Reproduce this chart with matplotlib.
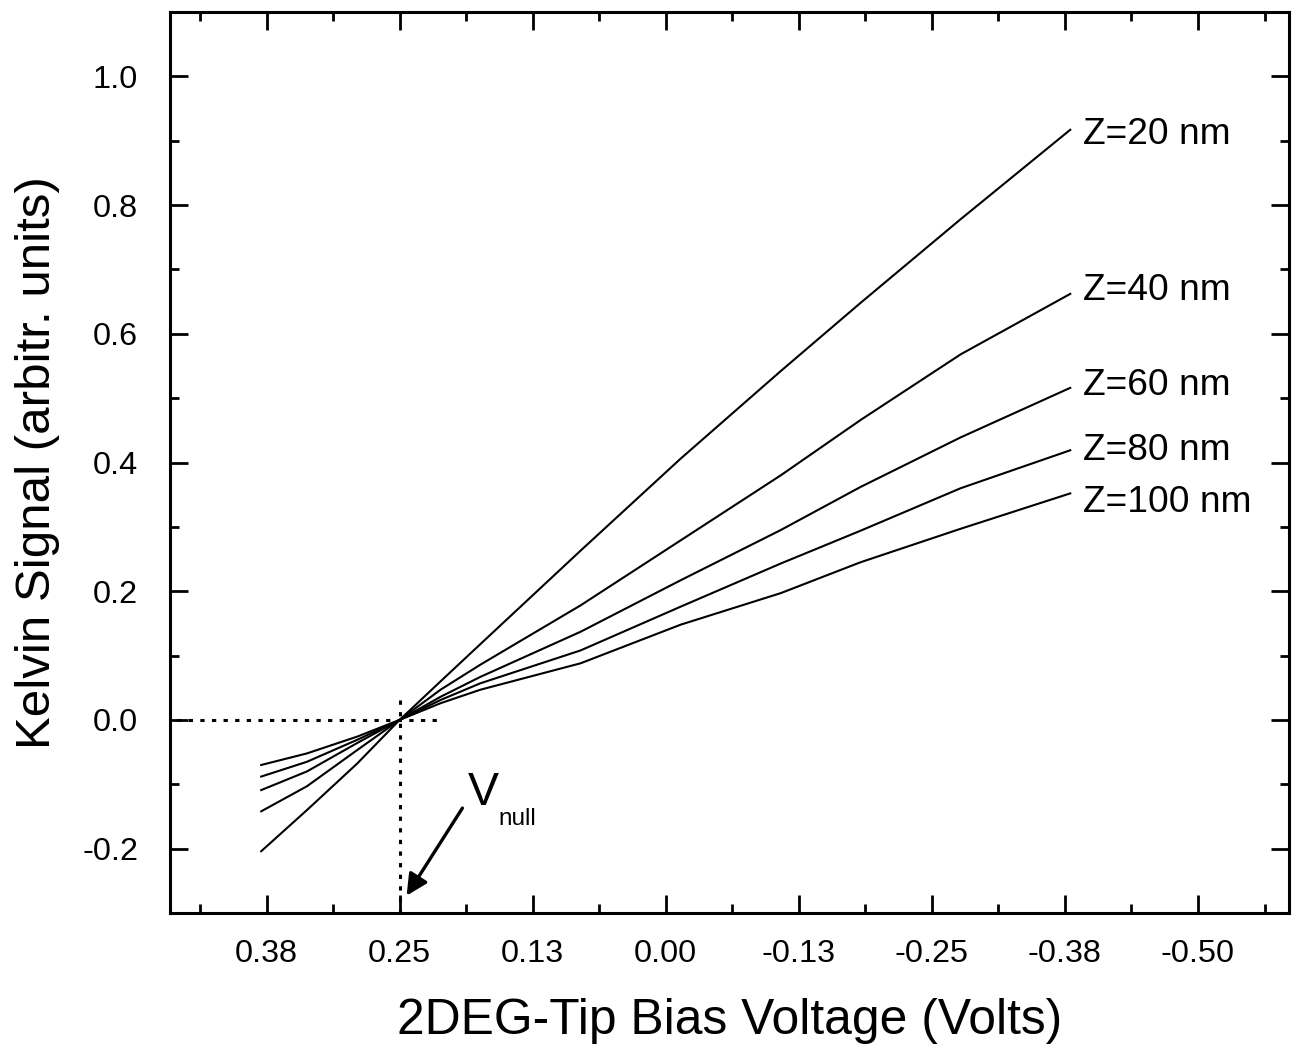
import matplotlib
matplotlib.use("Agg")
import matplotlib.pyplot as plt
from matplotlib.ticker import FixedLocator, MultipleLocator

plt.rcParams['font.family'] = ['Liberation Sans', 'DejaVu Sans']
plt.rcParams['axes.unicode_minus'] = False

# Bias voltage (V) sample points
bias = [0.38, 0.337, 0.29, 0.25, 0.2115, 0.174, 0.080, -0.014, -0.108, -0.183, -0.277, -0.38]

# Kelvin signal (arbitr. units) for each tip height
z20 = [-0.204, -0.140, -0.068, 0.0, 0.060, 0.118, 0.263, 0.406, 0.542, 0.648, 0.778, 0.917]
z40 = [-0.142, -0.103, -0.047, 0.0, 0.047, 0.086, 0.178, 0.279, 0.380, 0.466, 0.568, 0.662]
z60 = [-0.109, -0.080, -0.036, 0.0, 0.036, 0.067, 0.137, 0.217, 0.295, 0.362, 0.439, 0.516]
z80 = [-0.088, -0.065, -0.031, 0.0, 0.031, 0.057, 0.108, 0.176, 0.243, 0.294, 0.360, 0.419]
z100 = [-0.070, -0.052, -0.026, 0.0, 0.026, 0.047, 0.088, 0.148, 0.197, 0.245, 0.297, 0.352]

series = [z20, z40, z60, z80, z100]
labels = ["Z=20 nm", "Z=40 nm", "Z=60 nm", "Z=80 nm", "Z=100 nm"]
label_y = [0.910, 0.667, 0.519, 0.419, 0.338]
label_x = -0.392

x_major = [0.375, 0.25, 0.125, 0.0, -0.125, -0.25, -0.375, -0.5]
x_major_labels = ["0.38", "0.25", "0.13", "0.00", "-0.13", "-0.25", "-0.38", "-0.50"]
x_minor = [0.4375, 0.3125, 0.1875, 0.0625, -0.0625, -0.1875, -0.3125, -0.4375, -0.5625]

v_null = 0.25
fig = plt.figure(figsize=(12.95, 10.52), dpi=100)
ax = fig.add_axes([170/1295, 1 - 913/1052, (1289-170)/1295, (913-12)/1052])

for s in series:
    ax.plot(bias, s, color='black', lw=1.5)

for lab, yy in zip(labels, label_y):
    ax.text(label_x, yy, lab, fontsize=26.7, ha='left', va='center')

dot = (0, (1.4, 2.4))
ax.plot([0.47, 0.2115], [0.0, 0.0], color='black', lw=2.2, linestyle=dot)
ax.plot([v_null, v_null], [0.031, -0.3], color='black', lw=2.2, linestyle=dot)

ax.text(0.186, -0.132, "V", fontsize=33.5, ha='left', va='baseline')
ax.text(0.157, -0.163, "null", fontsize=17.5, ha='left', va='baseline')
ax.annotate("", xy=(0.2434, -0.273), xytext=(0.191, -0.137),
            arrowprops=dict(arrowstyle='-|>', color='black', lw=2.4,
                            mutation_scale=32, shrinkA=0, shrinkB=0))

ax.set_xlim(0.4657, -0.5855)
ax.set_ylim(-0.3, 1.1)

ax.xaxis.set_major_locator(FixedLocator(x_major))
ax.set_xticklabels(x_major_labels)
ax.xaxis.set_minor_locator(FixedLocator(x_minor))
ax.yaxis.set_major_locator(MultipleLocator(0.2))
ax.yaxis.set_minor_locator(MultipleLocator(0.1))
ax.yaxis.set_major_formatter(plt.FuncFormatter(lambda v, p: f"{v:.1f}" if abs(v) > 1e-9 else "0.0"))

ax.tick_params(which='both', direction='in', top=True, right=True, width=2.0)
ax.tick_params(which='major', length=13, labelsize=23.3)
ax.tick_params(axis='x', which='major', pad=19)
ax.tick_params(axis='y', which='major', pad=23)
ax.tick_params(which='minor', length=6.5)
for sp in ax.spines.values():
    sp.set_linewidth(2.2)

ax.set_xlabel("2DEG-Tip Bias Voltage (Volts)", fontsize=35.8)
ax.set_ylabel("Kelvin Signal (arbitr. units)", fontsize=35.5)
ax.xaxis.set_label_coords(0.5, -0.094)
ax.yaxis.set_label_coords(-0.098, 0.5)

fig.savefig("out.png", dpi=100)
